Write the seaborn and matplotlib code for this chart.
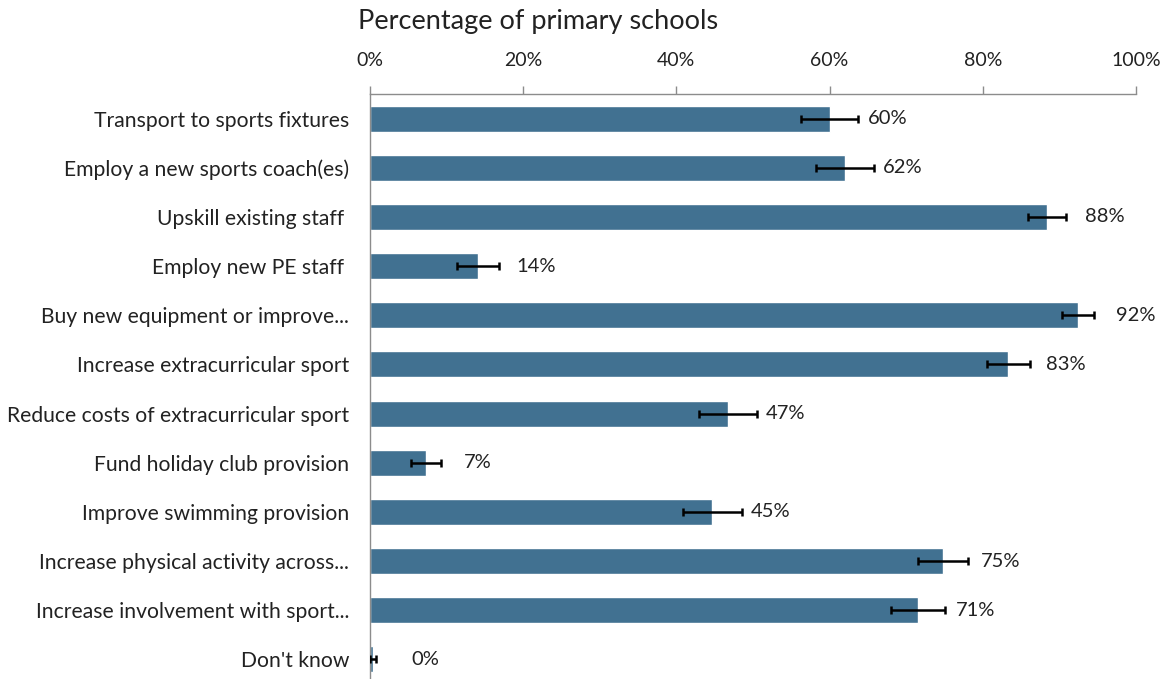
import numpy as np
import pandas as pd
import matplotlib
matplotlib.use("Agg")
import matplotlib.pyplot as plt
import seaborn as sns
from matplotlib.ticker import PercentFormatter

categories = [
    "Transport to sports fixtures",
    "Employ a new sports coach(es)",
    "Upskill existing staff ",
    "Employ new PE staff ",
    "Buy new equipment or improve...",
    "Increase extracurricular sport",
    "Reduce costs of extracurricular sport",
    "Fund holiday club provision",
    "Improve swimming provision",
    "Increase physical activity across...",
    "Increase involvement with sport...",
    "Don't know",
]
values = [60, 62, 88.4, 14.1, 92.4, 83.3, 46.7, 7.3, 44.7, 74.8, 71.5, 0.4]
errors = [3.7, 3.8, 2.5, 2.7, 2.1, 2.8, 3.8, 2.0, 3.9, 3.3, 3.5, 0.4]
labels = ["60%", "62%", "88%", "14%", "92%", "83%", "47%", "7%", "45%", "75%", "71%", "0%"]

BAR = "#417191"
AXIS = "#8c8c8c"
TXT = "#222222"

sns.set_theme(style="white")
plt.rcParams["font.family"] = ["Lato", "DejaVu Sans"]

df = pd.DataFrame({"category": categories, "value": values})

fig = plt.figure(figsize=(11.65, 6.79), dpi=100)
ax = fig.add_axes([370 / 1165, -5 / 679, 766 / 1165, 590 / 679])

sns.barplot(data=df, x="value", y="category", orient="h", color=BAR,
            width=0.53, ax=ax, saturation=1)
ypos = np.arange(len(categories))
ax.errorbar(values, ypos, xerr=errors, fmt="none", ecolor="black",
            elinewidth=1.8, capsize=3, capthick=1.8, zorder=5)

for y, v, lab in zip(ypos, values, labels):
    ax.text(v + 5.0, y, lab, va="center", ha="left", fontsize=14.5, color=TXT)

ax.set_xlim(0, 100)
ax.set_ylim(len(categories) - 0.5, -0.5)
ax.xaxis.tick_top()
ax.xaxis.set_label_position("top")
ax.set_xticks([0, 20, 40, 60, 80, 100])
ax.xaxis.set_major_formatter(PercentFormatter(decimals=0))
ax.tick_params(axis="x", direction="out", length=6, width=1, color=AXIS,
               labelsize=14, pad=12, labelcolor=TXT)
ax.tick_params(axis="y", length=0, labelsize=15.2, pad=15, labelcolor=TXT)
ax.set_xlabel("")
ax.set_ylabel("")

for s in ["right", "bottom"]:
    ax.spines[s].set_visible(False)
for s in ["top", "left"]:
    ax.spines[s].set_color(AXIS)
    ax.spines[s].set_linewidth(1)

fig.text(358 / 1165, 1 - 22 / 679, "Percentage of primary schools",
         ha="left", va="center", fontsize=19.5, color=TXT)

plt.savefig("out.png", dpi=100)
